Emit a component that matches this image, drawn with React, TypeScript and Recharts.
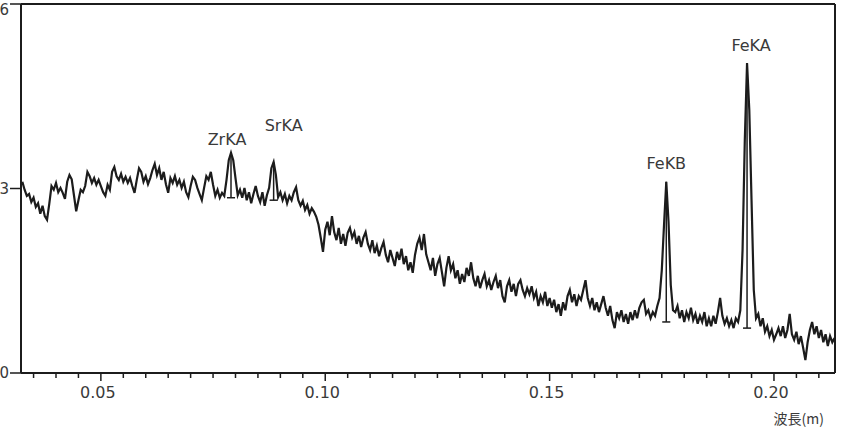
import { LineChart, Line, XAxis, YAxis, ReferenceDot, ReferenceLine } from 'recharts';

const START = 0.0325;
const STEP = 0.0005;

const intensity = [
  3.11, 2.98, 2.88, 2.91, 2.78, 2.85, 2.70, 2.76, 2.59, 2.72,
  2.55, 2.49, 2.75, 3.04, 2.98, 3.09, 2.94, 3.01, 2.93, 2.83,
  3.11, 3.22, 3.15, 2.89, 2.63, 2.81, 2.98, 2.94, 3.04, 3.27,
  3.20, 3.09, 3.17, 3.06, 3.14, 3.04, 2.94, 2.88, 3.06, 2.98,
  3.27, 3.35, 3.20, 3.14, 3.24, 3.11, 3.19, 3.09, 3.17, 3.04,
  2.93, 3.14, 3.33, 3.27, 3.11, 3.20, 3.07, 3.17, 3.30, 3.40,
  3.22, 3.33, 3.14, 3.27, 3.07, 2.93, 3.17, 3.09, 3.20, 3.06,
  3.14, 3.01, 3.11, 2.94, 2.86, 3.04, 3.19, 3.14, 3.01, 2.91,
  2.81, 3.01, 3.20, 3.14, 3.27, 3.06, 2.88, 2.98, 2.85, 2.93,
  2.88, 3.14, 3.46, 3.58, 3.46, 3.17, 2.89, 2.98, 2.85, 3.01,
  2.81, 2.94, 2.76, 2.91, 3.04, 2.88, 2.78, 2.94, 2.72, 2.89,
  3.01, 3.33, 3.43, 3.22, 2.86, 2.94, 2.81, 2.91, 2.76, 2.88,
  2.81, 2.94, 3.02, 2.81, 2.72, 2.80, 2.65, 2.73, 2.59, 2.68,
  2.62, 2.54, 2.41, 2.20, 1.97, 2.33, 2.46, 2.24, 2.55, 2.29,
  2.16, 2.36, 2.10, 2.26, 2.07, 2.28, 2.36, 2.20, 2.29, 2.10,
  2.23, 2.05, 2.20, 2.29, 2.10, 2.00, 2.16, 1.95, 2.07, 1.90,
  2.03, 2.13, 1.92, 1.80, 2.00, 1.87, 1.74, 1.97, 1.84, 2.02,
  1.77, 1.90, 1.67, 1.80, 1.63, 1.92, 2.10, 2.20, 2.00, 2.26,
  1.93, 1.80, 1.67, 1.87, 1.58, 1.77, 1.87, 1.64, 1.41, 1.71,
  1.90, 1.67, 1.77, 1.54, 1.67, 1.45, 1.61, 1.48, 1.71, 1.58,
  1.80, 1.54, 1.41, 1.58, 1.38, 1.51, 1.61, 1.41, 1.51, 1.35,
  1.48, 1.58, 1.38, 1.51, 1.25, 1.15, 1.41, 1.51, 1.32, 1.45,
  1.25, 1.45, 1.51, 1.35, 1.25, 1.38, 1.28, 1.41, 1.22, 1.32,
  1.09, 1.25, 1.15, 1.32, 1.09, 1.22, 1.06, 1.19, 0.99, 1.12,
  0.93, 1.15, 1.02, 1.25, 1.35, 1.15, 1.28, 1.09, 1.25, 1.19,
  1.35, 1.51, 1.22, 1.09, 1.22, 1.02, 1.15, 0.99, 1.12, 1.25,
  1.06, 0.93, 1.09, 0.86, 0.73, 0.99, 0.89, 1.02, 0.83, 0.96,
  0.80, 0.99, 0.86, 1.02, 0.89, 1.06, 1.15, 1.19, 0.96, 1.02,
  0.89, 0.99, 0.93, 1.09, 1.22, 1.67, 2.41, 3.11, 2.46, 1.43,
  1.02, 0.99, 1.09, 0.89, 1.02, 0.83, 0.99, 0.89, 1.06, 0.86,
  0.96, 0.80, 0.93, 0.83, 0.99, 0.76, 0.89, 0.76, 0.93, 0.80,
  0.99, 1.22, 0.93, 0.80, 0.89, 0.76, 0.86, 0.73, 0.89, 0.83,
  1.02, 2.00, 3.79, 5.04, 4.28, 2.81, 1.35, 0.89, 0.96, 0.76,
  0.89, 0.67, 0.76, 0.60, 0.70, 0.54, 0.63, 0.73, 0.60, 0.76,
  0.57, 0.70, 0.96, 0.63, 0.54, 0.67, 0.47, 0.60, 0.41, 0.21,
  0.50, 0.70, 0.83, 0.63, 0.76, 0.57, 0.70, 0.50, 0.63, 0.44,
  0.60, 0.50, 0.57,
];

const data = intensity.map((v, i) => ({ w: +(START + i * STEP).toFixed(4), v }));

const X_DOMAIN: [number, number] = [0.0322, 0.2136];
const Y_DOMAIN: [number, number] = [0, 6];

const xMinorTicks = [
  0.035, 0.04, 0.045, 0.05, 0.055, 0.06, 0.065, 0.07, 0.075, 0.08, 0.085, 0.09,
  0.095, 0.1, 0.105, 0.11, 0.115, 0.12, 0.125, 0.13, 0.135, 0.14, 0.145, 0.15,
  0.155, 0.16, 0.165, 0.17, 0.175, 0.18, 0.185, 0.19, 0.195, 0.2, 0.205, 0.21,
];
const xMajorTicks = [0.05, 0.1, 0.15, 0.2];
const xMajorLabels = ['0.05', '0.10', '0.15', '0.20'];

const yTicks = [0, 3, 6];

const peakNames = ['ZrKA', 'SrKA', 'FeKB', 'FeKA'];
const peakWavelengths = [0.079, 0.0885, 0.176, 0.194];
const peakBase = [2.85, 2.81, 0.83, 0.73];

// label placement relative to the peak top (px)
const peakLabelOffset: Record<string, [number, number]> = {
  ZrKA: [-4, -8],
  SrKA: [10, -31],
  FeKB: [0, -13],
  FeKA: [4, -12],
};

const INK = '#1c1c1c';
const TEXT = '#3a3a3a';
const FONT = '"DejaVu Sans", sans-serif';
const CAP = 0.0009;

const XTick = ({ x, y, payload }: any) => {
  const idx = xMajorTicks.findIndex(m => Math.abs(m - payload.value) < 1e-6);
  const major = idx >= 0;
  return (
    <g>
      <line x1={x} x2={x} y1={y} y2={y + (major ? 8 : 5)} stroke={INK} strokeWidth={1.5} />
      {major && (
        <text x={x - 3} y={y + 25} textAnchor="middle" fontSize={16} fontFamily={FONT} fill={TEXT}>
          {xMajorLabels[idx]}
        </text>
      )}
    </g>
  );
};

// keep the top label inside the page (the scan shows it just below its tick)
const YTick = ({ x, y, payload }: any) => (
  <text x={x} y={Math.max(y, 10)} dy={5} textAnchor="end" fontSize={15} fontFamily={FONT} fill={TEXT}>
    {payload.value}
  </text>
);

const peakValue = (w: number) => {
  const hit = data.find(d => Math.abs(d.w - w) < 1e-6);
  return hit ? hit.v : 0;
};

export default function App() {
  return (
    <div style={{ position: 'absolute', left: 0, top: 0, width: 859, height: 435, background: '#fff' }}>
      <LineChart width={859} height={435} data={data} margin={{ top: 4, right: 24, bottom: 0, left: 0 }}>
        <XAxis
          dataKey="w"
          type="number"
          domain={X_DOMAIN}
          allowDataOverflow
          ticks={xMinorTicks}
          interval={0}
          tick={<XTick />}
          tickLine={false}
          tickSize={0}
          tickMargin={0}
          height={62}
          axisLine={{ stroke: INK, strokeWidth: 2 }}
          label={{ value: '波長(m)', position: 'insideBottomRight', offset: 11, fontSize: 14, fill: TEXT, fontFamily: '"Noto Sans CJK JP", sans-serif' }}
        />
        <YAxis
          type="number"
          domain={Y_DOMAIN}
          ticks={yTicks}
          width={21}
          tickSize={11}
          tickMargin={1}
          interval={0}
          tick={<YTick />}
          tickLine={{ stroke: INK, strokeWidth: 1.5 }}
          axisLine={{ stroke: INK, strokeWidth: 2 }}
        />
        {/* frame: top and right edges */}
        <ReferenceLine y={Y_DOMAIN[1]} stroke={INK} strokeWidth={2} ifOverflow="visible" />
        <ReferenceLine x={X_DOMAIN[1]} stroke={INK} strokeWidth={2} ifOverflow="visible" />
        {/* peak markers */}
        {peakNames.map((name, i) => (
          <ReferenceLine
            key={name + '-bar'}
            segment={[{ x: peakWavelengths[i], y: peakBase[i] }, { x: peakWavelengths[i], y: peakValue(peakWavelengths[i]) }]}
            stroke={INK}
            strokeWidth={1.5}
          />
        ))}
        {peakNames.map((name, i) => (
          <ReferenceLine
            key={name + '-cap'}
            segment={[{ x: peakWavelengths[i] - CAP, y: peakBase[i] }, { x: peakWavelengths[i] + CAP, y: peakBase[i] }]}
            stroke={INK}
            strokeWidth={1.5}
          />
        ))}
        <Line dataKey="v" type="linear" stroke={INK} strokeWidth={2.2} dot={false} isAnimationActive={false} />
        {peakNames.map((name, i) => (
          <ReferenceDot
            key={name}
            x={peakWavelengths[i]}
            y={peakValue(peakWavelengths[i])}
            r={0}
            shape={(p: any) => (
              <text
                x={p.cx + peakLabelOffset[name][0]}
                y={p.cy + peakLabelOffset[name][1]}
                textAnchor="middle"
                fontSize={16}
                fontFamily={FONT}
                fill={TEXT}
              >
                {name}
              </text>
            )}
          />
        ))}
      </LineChart>
    </div>
  );
}
